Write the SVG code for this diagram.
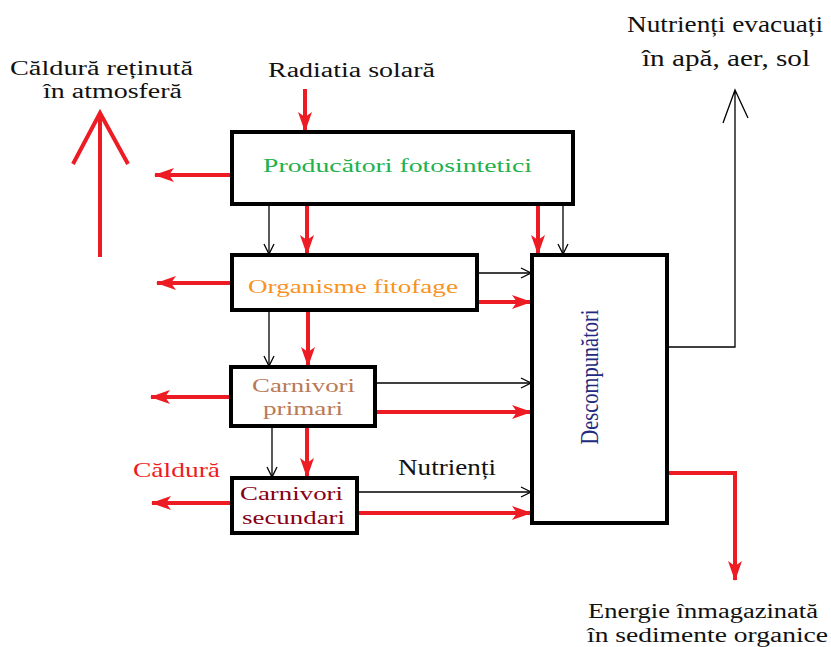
<svg xmlns="http://www.w3.org/2000/svg" width="831" height="647" viewBox="0 0 831 647">
<style>
.box{fill:#fff;stroke:#000;stroke-width:4}
.red{stroke:#ed1c24;stroke-width:4;fill:none}
.blk{stroke:#000;stroke-width:1.3;fill:none}
.lb{fill:#111}
</style>
<defs>
<marker id="ra" markerUnits="userSpaceOnUse" markerWidth="24" markerHeight="20" viewBox="-2 -10 24 20" refX="19" refY="0" orient="auto">
<path d="M0,-7 L20,0 L0,7 L5,0 z" fill="#ed1c24"/>
</marker>
<marker id="ba" markerUnits="userSpaceOnUse" markerWidth="14" markerHeight="14" viewBox="-2 -7 14 14" refX="10" refY="0" orient="auto">
<path d="M0,-5 L10,0 L0,5" fill="none" stroke="#000" stroke-width="1.3"/>
</marker>
</defs>
<rect width="831" height="647" fill="#fff"/>

<g id="connectors">
<line class="red" x1="305" y1="89" x2="305" y2="131" marker-end="url(#ra)"/>
<path class="red" d="M100,257 V113 M73,164 L100,113 L128,164"/>
<line class="red" x1="232" y1="175" x2="155" y2="175" marker-end="url(#ra)"/>
<line class="red" x1="232" y1="283" x2="157" y2="283" marker-end="url(#ra)"/>
<line class="red" x1="231" y1="397" x2="151" y2="397" marker-end="url(#ra)"/>
<line class="red" x1="232" y1="503" x2="152" y2="503" marker-end="url(#ra)"/>
<line class="red" x1="307" y1="204" x2="307" y2="254" marker-end="url(#ra)"/>
<line class="red" x1="308" y1="310" x2="308" y2="366" marker-end="url(#ra)"/>
<line class="red" x1="307" y1="426" x2="307" y2="477" marker-end="url(#ra)"/>
<line class="red" x1="538" y1="204" x2="538" y2="254" marker-end="url(#ra)"/>
<line class="red" x1="477" y1="302" x2="531" y2="302" marker-end="url(#ra)"/>
<line class="red" x1="375" y1="412" x2="531" y2="412" marker-end="url(#ra)"/>
<line class="red" x1="357" y1="513" x2="531" y2="513" marker-end="url(#ra)"/>
<path class="red" d="M667,473 H735 V580" marker-end="url(#ra)"/>
<line class="blk" x1="269" y1="204" x2="269" y2="254" marker-end="url(#ba)"/>
<line class="blk" x1="269" y1="310" x2="269" y2="366" marker-end="url(#ba)"/>
<line class="blk" x1="272" y1="426" x2="272" y2="477" marker-end="url(#ba)"/>
<line class="blk" x1="563" y1="204" x2="563" y2="254" marker-end="url(#ba)"/>
<line class="blk" x1="477" y1="273" x2="531" y2="273" marker-end="url(#ba)"/>
<line class="blk" x1="375" y1="383" x2="531" y2="383" marker-end="url(#ba)"/>
<line class="blk" x1="357" y1="492" x2="531" y2="492" marker-end="url(#ba)"/>
<path class="blk" d="M667,347 H735 V90 M723,123 L735,90 L748,118"/>
</g>

<g font-family="'Liberation Serif', 'Times New Roman', serif">
<g id="producatori">
<rect class="box" x="232" y="132" width="341" height="72"/>
<text x="263" y="172" font-size="19" fill="#22b14c" textLength="269" lengthAdjust="spacingAndGlyphs">Producători fotosintetici</text>
</g>
<g id="fitofage">
<rect class="box" x="232" y="255" width="245" height="55"/>
<text x="248" y="293" font-size="19" fill="#f7931e" textLength="210" lengthAdjust="spacingAndGlyphs">Organisme fitofage</text>
</g>
<g id="carnivori-primari">
<rect class="box" x="231" y="367" width="144" height="59"/>
<text x="252" y="392" font-size="19" fill="#b97a57" textLength="103" lengthAdjust="spacingAndGlyphs">Carnivori</text>
<text x="263" y="415" font-size="19" fill="#b97a57" textLength="80" lengthAdjust="spacingAndGlyphs">primari</text>
</g>
<g id="carnivori-secundari">
<rect class="box" x="232" y="478" width="125" height="55"/>
<text x="240" y="500" font-size="19" fill="#880015" textLength="103" lengthAdjust="spacingAndGlyphs">Carnivori</text>
<text x="242" y="524" font-size="19" fill="#880015" textLength="103" lengthAdjust="spacingAndGlyphs">secundari</text>
</g>
<g id="descompunatori">
<rect class="box" x="532" y="255" width="135" height="268"/>
<text transform="translate(598,377) rotate(-90)" x="0" y="0" font-size="26" fill="#1f2a80" text-anchor="middle" textLength="135" lengthAdjust="spacingAndGlyphs">Descompunători</text>
</g>

<g id="labels">
<text class="lb" x="10" y="75" font-size="20" textLength="183" lengthAdjust="spacingAndGlyphs">Căldură reținută</text>
<text class="lb" x="43" y="98" font-size="20" textLength="139" lengthAdjust="spacingAndGlyphs">în atmosferă</text>
<text class="lb" x="268" y="77" font-size="20" textLength="167" lengthAdjust="spacingAndGlyphs">Radiatia solară</text>
<text class="lb" x="627" y="32" font-size="24" textLength="196" lengthAdjust="spacingAndGlyphs">Nutrienți evacuați</text>
<text class="lb" x="642" y="66" font-size="24" textLength="168" lengthAdjust="spacingAndGlyphs">în apă, aer, sol</text>
<text x="133" y="477" font-size="22" fill="#ed1c24" textLength="87" lengthAdjust="spacingAndGlyphs">Căldură</text>
<text class="lb" x="398" y="475" font-size="24" textLength="98" lengthAdjust="spacingAndGlyphs">Nutrienți</text>
<text class="lb" x="588" y="618" font-size="20" textLength="230" lengthAdjust="spacingAndGlyphs">Energie înmagazinată</text>
<text class="lb" x="587" y="642" font-size="20" textLength="241" lengthAdjust="spacingAndGlyphs">în sedimente organice</text>
</g>
</g>
</svg>
